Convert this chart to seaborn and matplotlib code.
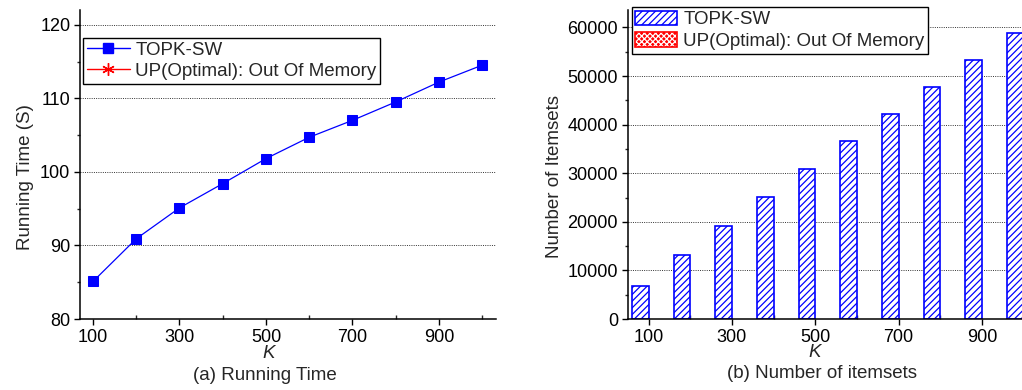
import matplotlib
matplotlib.use("Agg")
import matplotlib.pyplot as plt
from matplotlib.lines import Line2D
from matplotlib.patches import Patch
from matplotlib.ticker import MultipleLocator
from matplotlib.legend_handler import HandlerTuple
import seaborn as sns
import pandas as pd
import numpy as np

# ---- data ----
k_values = [100, 200, 300, 400, 500, 600, 700, 800, 900, 1000]
running_time = [85.1, 90.9, 95.1, 98.4, 101.8, 104.7, 107.0, 109.5, 112.2, 114.5]
num_itemsets = [6850, 13100, 19200, 25200, 30900, 36650, 42200, 47850, 53400, 58900]
series_names = ["TOPK-SW", "UP(Optimal): Out Of Memory"]
x_ticks = [100, 300, 500, 700, 900]

sns.set_theme(style="ticks")
plt.rcParams["font.family"] = ["Liberation Sans", "DejaVu Sans"]
plt.rcParams["hatch.linewidth"] = 0.9

W, H = 1022, 390
fig = plt.figure(figsize=(W / 100, H / 100), dpi=100)

def px_axes(x0, x1, ytop, ybot):
    return [x0 / W, 1 - ybot / H, (x1 - x0) / W, (ybot - ytop) / H]

ax1 = fig.add_axes(px_axes(80, 496, 10, 319))
ax2 = fig.add_axes(px_axes(627.7, 627.7 + 416.7, 10, 319))

# ---- left: running time ----
df1 = pd.DataFrame({"K": k_values, "time": running_time})
sns.lineplot(data=df1, x="K", y="time", ax=ax1, color="blue", linewidth=0.9,
             marker="s", markersize=6.5, markeredgecolor="blue", markerfacecolor="blue")
ax1.set_xlim(70, 1032)
ax1.set_ylim(80, 122)
ax1.yaxis.set_major_locator(MultipleLocator(10))
ax1.yaxis.set_minor_locator(MultipleLocator(5))

# ---- right: number of itemsets ----
df2 = pd.DataFrame({
    "K": k_values + k_values,
    "count": num_itemsets + [np.nan] * len(k_values),
    "series": [series_names[0]] * len(k_values) + [series_names[1]] * len(k_values),
})
sns.barplot(data=df2, x="K", y="count", hue="series", hue_order=series_names,
            native_scale=True, errorbar=None, palette=["blue", "red"],
            legend=False, ax=ax2, width=0.8)
for p in ax2.patches:
    p.set_facecolor("white")
    p.set_edgecolor("blue")
    p.set_hatch("/////")
    p.set_linewidth(1.2)
ax2.set_xlim(50, 1050)
ax2.set_ylim(0, 63600)
ax2.yaxis.set_major_locator(MultipleLocator(10000))
ax2.yaxis.set_minor_locator(MultipleLocator(5000))

for ax in (ax1, ax2):
    ax.set_xticks(x_ticks)
    ax.set_xticklabels([str(v) for v in x_ticks])
    ax.xaxis.set_minor_locator(MultipleLocator(100))
    for s in ("top", "right"):
        ax.spines[s].set_visible(False)
    for s in ("left", "bottom"):
        ax.spines[s].set_color("black")
        ax.spines[s].set_linewidth(1.1)
    ax.tick_params(axis="both", which="major", direction="out", length=4.5, width=1,
                   labelsize=13, colors="black", pad=2.5)
    ax.tick_params(axis="x", which="minor", direction="in", length=3, width=1)
    ax.tick_params(axis="y", which="minor", direction="out", length=2.5, width=1)
    ax.grid(axis="y", which="major", linestyle=(0, (1, 1.3)), color="#333333", linewidth=0.7)
    ax.set_axisbelow(True)
    ax.set_xlabel("K", fontsize=13.5, fontstyle="italic")

ax1.set_ylabel("Running Time (S)", fontsize=13.5)
ax2.set_ylabel("Number of Itemsets", fontsize=13.5)
ax1.yaxis.set_label_coords(-0.11, 0.46)
ax2.yaxis.set_label_coords(-0.155, 0.46)
ax1.xaxis.set_label_coords((269 - 80) / 416, -0.085)
ax2.xaxis.set_label_coords((815 - 627.7) / 416.7, -0.082)

fig.text(265 / W, 1 - 376 / H, "(a) Running Time", ha="center", va="center", fontsize=13.5)
fig.text(822 / W, 1 - 373 / H, "(b) Number of itemsets", ha="center", va="center", fontsize=13.5)

# ---- legends ----
h1 = [Line2D([], [], color="blue", lw=1, marker="s", markersize=6.5),
      Line2D([], [], color="red", lw=1, marker=(6, 2, 0), markersize=9, markeredgewidth=1)]
leg1 = ax1.legend(h1, series_names, loc="upper left", bbox_to_anchor=(0.007, 0.909),
                  borderaxespad=0, fontsize=13.5, frameon=True, fancybox=False,
                  handlelength=2.3, handletextpad=0.3, borderpad=0.2, labelspacing=0.2)
leg1.get_frame().set_edgecolor("black")
leg1.get_frame().set_linewidth(1.0)
leg1.get_frame().set_alpha(1)

h2 = [Patch(facecolor="white", edgecolor="blue", hatch="/////", linewidth=1.2),
      (Patch(facecolor="red", edgecolor="white", hatch="xxxxxx", linewidth=0),
       Patch(facecolor="none", edgecolor="red", linewidth=1.2))]
leg2 = ax2.legend(h2, series_names, loc="upper left", bbox_to_anchor=(0.0096, 1.0097),
                  borderaxespad=0, fontsize=13.5, frameon=True, fancybox=False,
                  handlelength=2.2, handleheight=0.8, handletextpad=0.35, borderpad=0.2,
                  labelspacing=0.2, handler_map={tuple: HandlerTuple(ndivide=1, pad=0)})
leg2.get_frame().set_edgecolor("black")
leg2.get_frame().set_linewidth(1.0)
leg2.get_frame().set_alpha(1)

fig.savefig("out.png", dpi=100)
